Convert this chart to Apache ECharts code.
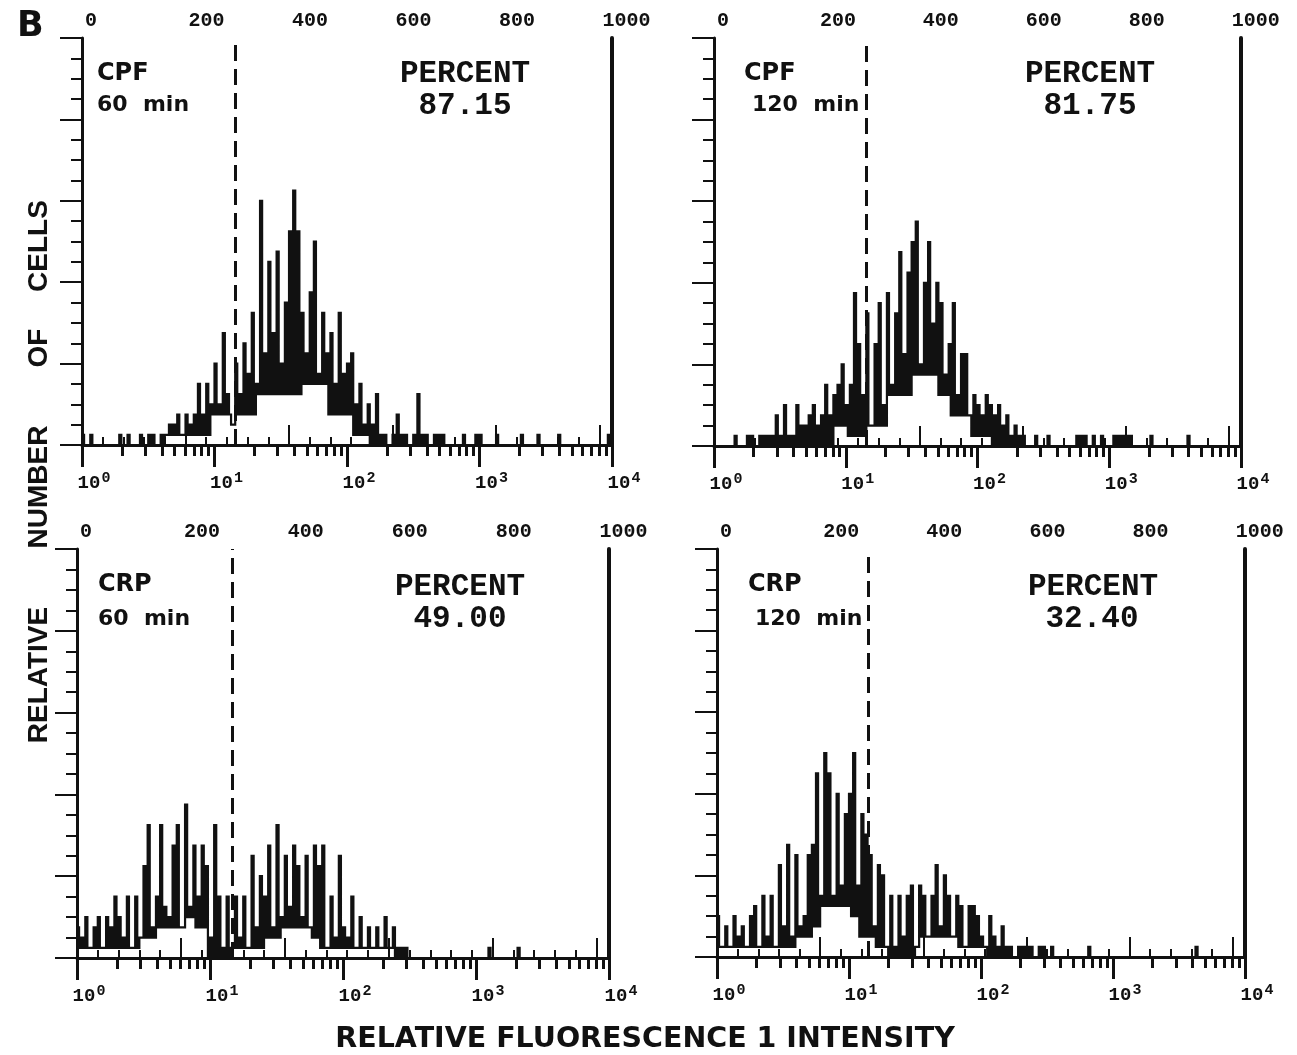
<!DOCTYPE html>
<html>
<head>
<meta charset="utf-8">
<title>Relative fluorescence histograms</title>
<script src="https://cdn.jsdelivr.net/npm/echarts@6/dist/echarts.min.js"></script>
<style>
html, body { margin: 0; padding: 0; background: #fff; }
#chart { width: 1297px; height: 1055px; }
</style>
</head>
<body>
<div id="chart"></div>
<script>
// 128 bins of 8 channels (1024 channels = 4 decades).
// *Peaks: highest count read in the bin, *Lows: lowest count read in the bin
var cpf60Peaks = [
    1, 0, 1, 0, 0, 0, 0, 0, 0, 1, 0, 1, 0, 0, 1, 0, 1, 1, 0, 1,
    1, 2, 2, 3, 1, 3, 2, 3, 6, 3, 6, 4, 8, 4, 11, 5, 2, 8, 5, 10,
    7, 13, 6, 24, 9, 18, 11, 19, 8, 14, 21, 25, 21, 13, 9, 15, 20, 7, 13, 9,
    11, 6, 13, 7, 8, 9, 4, 6, 2, 4, 2, 5, 1, 1, 0, 1, 3, 1, 1, 0,
    1, 5, 1, 1, 0, 1, 1, 1, 0, 0, 0, 0, 1, 0, 0, 1, 1, 0, 0, 0,
    1, 0, 0, 0, 0, 0, 1, 0, 0, 0, 1, 0, 0, 0, 0, 1, 0, 0, 0, 0,
    0, 0, 0, 0, 0, 0, 0, 1
];
var cpf60Lows = [
    0, 0, 0, 0, 0, 0, 0, 0, 0, 0, 0, 0, 0, 0, 0, 0, 0, 0, 0, 0,
    1, 1, 1, 1, 1, 1, 1, 1, 1, 1, 1, 3, 3, 3, 3, 3, 2, 3, 3, 3,
    3, 3, 5, 5, 5, 5, 5, 5, 5, 5, 5, 5, 5, 6, 6, 6, 6, 6, 6, 3,
    3, 3, 3, 3, 3, 1, 1, 1, 1, 0, 0, 0, 0, 0, 0, 0, 0, 0, 0, 0,
    0, 0, 0, 0, 0, 0, 0, 0, 0, 0, 0, 0, 0, 0, 0, 0, 0, 0, 0, 0,
    0, 0, 0, 0, 0, 0, 0, 0, 0, 0, 0, 0, 0, 0, 0, 0, 0, 0, 0, 0,
    0, 0, 0, 0, 0, 0, 0, 0
];
var cpf120Peaks = [
    0, 0, 0, 0, 0, 1, 0, 0, 1, 1, 0, 1, 1, 1, 1, 3, 1, 4, 1, 1,
    4, 2, 2, 3, 4, 2, 3, 6, 3, 5, 6, 8, 4, 6, 15, 10, 5, 13, 2, 10,
    14, 4, 15, 6, 13, 19, 9, 17, 20, 22, 8, 16, 20, 12, 16, 14, 7, 10, 14, 5,
    9, 9, 3, 5, 4, 3, 5, 4, 3, 4, 2, 3, 1, 2, 1, 1, 0, 0, 1, 0,
    0, 1, 0, 0, 0, 0, 0, 0, 1, 1, 1, 0, 1, 0, 1, 0, 0, 1, 1, 1,
    1, 1, 0, 0, 0, 0, 1, 0, 0, 0, 0, 0, 0, 0, 0, 1, 0, 0, 0, 0,
    0, 0, 0, 0, 0, 0, 0, 0
];
var cpf120Lows = [
    0, 0, 0, 0, 0, 0, 0, 0, 0, 0, 0, 0, 0, 0, 0, 0, 0, 0, 0, 0,
    0, 0, 0, 0, 0, 0, 0, 0, 0, 2, 2, 2, 1, 1, 1, 1, 1, 2, 2, 2,
    2, 2, 5, 5, 5, 5, 5, 5, 7, 7, 7, 7, 7, 7, 5, 5, 5, 3, 3, 3,
    3, 3, 1, 1, 1, 1, 1, 0, 0, 0, 0, 0, 0, 0, 0, 0, 0, 0, 0, 0,
    0, 0, 0, 0, 0, 0, 0, 0, 0, 0, 0, 0, 0, 0, 0, 0, 0, 0, 0, 0,
    0, 0, 0, 0, 0, 0, 0, 0, 0, 0, 0, 0, 0, 0, 0, 0, 0, 0, 0, 0,
    0, 0, 0, 0, 0, 0, 0, 0
];
var crp60Peaks = [
    3, 2, 4, 1, 3, 4, 1, 4, 3, 6, 4, 2, 6, 1, 6, 2, 9, 13, 3, 6,
    13, 5, 4, 11, 13, 3, 15, 5, 11, 6, 11, 9, 2, 13, 6, 1, 6, 1, 6, 2,
    6, 1, 10, 3, 8, 6, 11, 3, 13, 4, 10, 5, 11, 9, 4, 10, 3, 11, 9, 11,
    1, 6, 2, 10, 3, 2, 6, 1, 4, 1, 3, 1, 3, 1, 4, 1, 3, 1, 1, 1,
    0, 0, 0, 0, 0, 0, 0, 0, 0, 0, 0, 0, 0, 0, 0, 0, 0, 0, 0, 1,
    0, 0, 0, 0, 0, 0, 1, 0, 0, 0, 0, 0, 0, 0, 0, 0, 0, 0, 0, 0,
    0, 0, 0, 0, 0, 0, 0, 0
];
var crp60Lows = [
    1, 1, 1, 1, 1, 1, 1, 1, 1, 1, 1, 1, 1, 1, 1, 2, 2, 2, 2, 3,
    3, 3, 3, 3, 3, 3, 4, 4, 3, 3, 3, 0, 0, 0, 0, 0, 0, 1, 1, 1,
    1, 1, 1, 1, 1, 2, 2, 2, 2, 3, 3, 3, 3, 3, 3, 3, 2, 2, 1, 1,
    1, 1, 1, 1, 1, 1, 1, 1, 1, 1, 1, 1, 1, 1, 1, 1, 0, 0, 0, 0,
    0, 0, 0, 0, 0, 0, 0, 0, 0, 0, 0, 0, 0, 0, 0, 0, 0, 0, 0, 0,
    0, 0, 0, 0, 0, 0, 0, 0, 0, 0, 0, 0, 0, 0, 0, 0, 0, 0, 0, 0,
    0, 0, 0, 0, 0, 0, 0, 0
];
var crp120Peaks = [
    4, 1, 3, 1, 4, 2, 3, 1, 4, 5, 1, 6, 2, 6, 1, 9, 3, 11, 2, 10,
    3, 4, 10, 11, 18, 6, 20, 18, 6, 16, 7, 14, 16, 20, 7, 14, 12, 10, 3, 9,
    8, 1, 6, 1, 6, 2, 6, 7, 1, 7, 6, 2, 6, 9, 3, 8, 6, 2, 6, 5,
    1, 5, 5, 4, 2, 1, 4, 2, 1, 3, 1, 1, 0, 1, 1, 1, 1, 0, 1, 1,
    0, 1, 0, 0, 0, 0, 0, 0, 0, 0, 1, 0, 0, 0, 0, 0, 0, 0, 0, 0,
    0, 0, 0, 0, 0, 0, 0, 0, 0, 0, 0, 0, 0, 0, 0, 0, 1, 0, 0, 0,
    0, 0, 0, 0, 0, 0, 0, 0
];
var crp120Lows = [
    1, 1, 1, 1, 1, 1, 1, 1, 1, 1, 1, 1, 1, 1, 1, 1, 1, 1, 1, 2,
    2, 2, 2, 3, 3, 5, 5, 5, 5, 5, 5, 5, 4, 4, 2, 2, 2, 2, 1, 1,
    1, 0, 0, 0, 0, 0, 0, 0, 1, 2, 2, 2, 2, 2, 2, 2, 2, 2, 1, 1,
    1, 1, 1, 1, 1, 0, 0, 0, 0, 0, 0, 0, 0, 0, 0, 0, 0, 0, 0, 0,
    0, 0, 0, 0, 0, 0, 0, 0, 0, 0, 0, 0, 0, 0, 0, 0, 0, 0, 0, 0,
    0, 0, 0, 0, 0, 0, 0, 0, 0, 0, 0, 0, 0, 0, 0, 0, 0, 0, 0, 0,
    0, 0, 0, 0, 0, 0, 0, 0
];

var peaks = [cpf60Peaks, cpf120Peaks, crp60Peaks, crp120Peaks];
var lows = [cpf60Lows, cpf120Lows, crp60Lows, crp120Lows];
var treatments = ['CPF', 'CPF', 'CRP', 'CRP'];
var times = ['60  min', '120  min', '60  min', '120  min'];
var percents = ['87.15', '81.75', '49.00', '32.40'];
var gateChannels = [297, 295, 298, 293];

var binWidth = 8;
var channelMax = 1024;
var ink = '#111';

var grids = [
    {left: 82, top: 38, width: 530, height: 407},
    {left: 714, top: 38, width: 527, height: 408},
    {left: 77, top: 549, width: 532, height: 409},
    {left: 717, top: 549, width: 528, height: 408}
];

// text positions for each panel
var textPos = [
    {name: [97, 74], time: [97, 105], pct: [465, 74], val: [465, 106]},
    {name: [744, 74], time: [752, 105], pct: [1090, 74], val: [1090, 106]},
    {name: [98, 585], time: [98, 619], pct: [460, 587], val: [460, 619]},
    {name: [748, 585], time: [755, 619], pct: [1093, 587], val: [1092, 619]}
];

// each bin: its high reading in the first half, its low reading in the second half
function toSteps(hi, lo) {
    var pts = [];
    hi.forEach(function (v, j) {
        pts.push([j * binWidth, v]);
        pts.push([j * binWidth + binWidth / 2, Math.min(v, lo[j])]);
    });
    pts.push([channelMax, 0]);
    return pts;
}

function txt(str, x, y, font, align) {
    return {
        type: 'text', x: x, y: y, silent: true,
        style: {text: str, font: font, fill: ink, align: align || 'left', verticalAlign: 'middle'}
    };
}

function makeOption() {
    var xAxes = [], yAxes = [], series = [], graphics = [];
    var monoBold = {fontFamily: 'Liberation Mono', fontWeight: 'bold', color: ink};

    grids.forEach(function (g, p) {
        // channel scale, labelled 0..1000 along the top
        xAxes.push({
            type: 'value', gridIndex: p, position: 'top', offset: 0,
            min: 0, max: channelMax, interval: 200,
            axisLine: {lineStyle: {color: ink, width: 2}},
            axisTick: {length: 20, lineStyle: {color: ink, width: 2}},
            splitLine: {show: false},
            axisLabel: Object.assign({
                showMaxLabel: false, margin: 7, align: 'left', padding: [0, 0, 0, 3], fontSize: 20,
                formatter: function (v) { return v <= 1000 ? String(v) : ''; }
            }, monoBold)
        });
        xAxes.push({
            type: 'value', gridIndex: p, position: 'top', offset: 0,
            min: 0, max: channelMax, interval: 40,
            axisLine: {show: false},
            axisTick: {length: 8, lineStyle: {color: ink, width: 2}},
            axisLabel: {show: false},
            splitLine: {show: false}
        });
        // log fluorescence scale along the bottom
        xAxes.push({
            type: 'log', logBase: 10, gridIndex: p, position: 'bottom', offset: 0,
            min: 1, max: 10000,
            axisLine: {lineStyle: {color: ink, width: 3}},
            axisTick: {length: 22, lineStyle: {color: ink, width: 3}},
            minorTick: {show: true, splitNumber: 9, length: 11, lineStyle: {color: ink, width: 3}},
            splitLine: {show: false},
            minorSplitLine: {show: false},
            axisLabel: {
                margin: 26, align: 'center', padding: [0, 0, 0, 24],
                formatter: function (v) {
                    return '{b|10}{s|' + Math.round(Math.log(v) / Math.LN10) + '}';
                },
                rich: {
                    b: Object.assign({fontSize: 19}, monoBold),
                    s: Object.assign({fontSize: 15, padding: [0, 0, 10, 1]}, monoBold)
                }
            }
        });

        yAxes.push({
            type: 'value', gridIndex: p, position: 'left', offset: 0, min: 0, max: 40, interval: 2,
            axisLine: {show: true, lineStyle: {color: ink, width: 3}},
            axisTick: {show: true, length: 11, lineStyle: {color: ink, width: 2}},
            axisLabel: {show: false}, splitLine: {show: false}
        });
        yAxes.push({
            type: 'value', gridIndex: p, position: 'left', offset: 0, min: 0, max: 40, interval: 8,
            axisLine: {show: false},
            axisTick: {show: true, length: 22, lineStyle: {color: ink, width: 2}},
            axisLabel: {show: false}, splitLine: {show: false}
        });
        yAxes.push({
            type: 'value', gridIndex: p, position: 'right', offset: 0, min: 0, max: 40,
            axisLine: {show: true, lineStyle: {color: ink, width: 4}},
            axisTick: {show: false}, axisLabel: {show: false}, splitLine: {show: false}
        });

        series.push({
            type: 'line', xAxisIndex: 3 * p, yAxisIndex: 3 * p,
            step: 'end', symbol: 'none', silent: true,
            data: toSteps(peaks[p], lows[p]),
            lineStyle: {color: ink, width: 2.2, join: 'miter'},
            markLine: {
                symbol: 'none', silent: true, animation: false,
                label: {show: false},
                lineStyle: {color: ink, width: 3, type: [16, 8]},
                data: [{xAxis: gateChannels[p]}]
            }
        });

        var t = textPos[p];
        graphics.push(txt(treatments[p], t.name[0], t.name[1], 'bold 24px "DejaVu Sans"'));
        graphics.push(txt(times[p], t.time[0], t.time[1], 'bold 22px "DejaVu Sans"'));
        graphics.push(txt('PERCENT', t.pct[0], t.pct[1], 'bold 31px "Liberation Mono"', 'center'));
        graphics.push(txt(percents[p], t.val[0], t.val[1], 'bold 31px "Liberation Mono"', 'center'));
    });

    graphics.push(txt('B', 17, 27, 'bold 35px "DejaVu Sans"'));

    var yWords = [['CELLS', 246], ['OF', 348], ['NUMBER', 487], ['RELATIVE', 675]];
    yWords.forEach(function (w) {
        var el = txt(w[0], 39, w[1], 'bold 28px "Liberation Sans"', 'center');
        el.rotation = Math.PI / 2;
        graphics.push(el);
    });
    graphics.push(txt('RELATIVE FLUORESCENCE 1 INTENSITY', 645, 1040, 'bold 28.5px "DejaVu Sans"', 'center'));

    return {
        animation: false,
        backgroundColor: '#fff',
        grid: grids.map(function (g) {
            return Object.assign({containLabel: false, outerBoundsMode: 'none'}, g);
        }),
        xAxis: xAxes,
        yAxis: yAxes,
        series: series,
        graphic: graphics
    };
}

function setChart(id, option) {
    var myChart = echarts.init(document.getElementById(id));
    myChart.setOption(option);
}

setChart('chart', makeOption());
</script>
</body>
</html>
